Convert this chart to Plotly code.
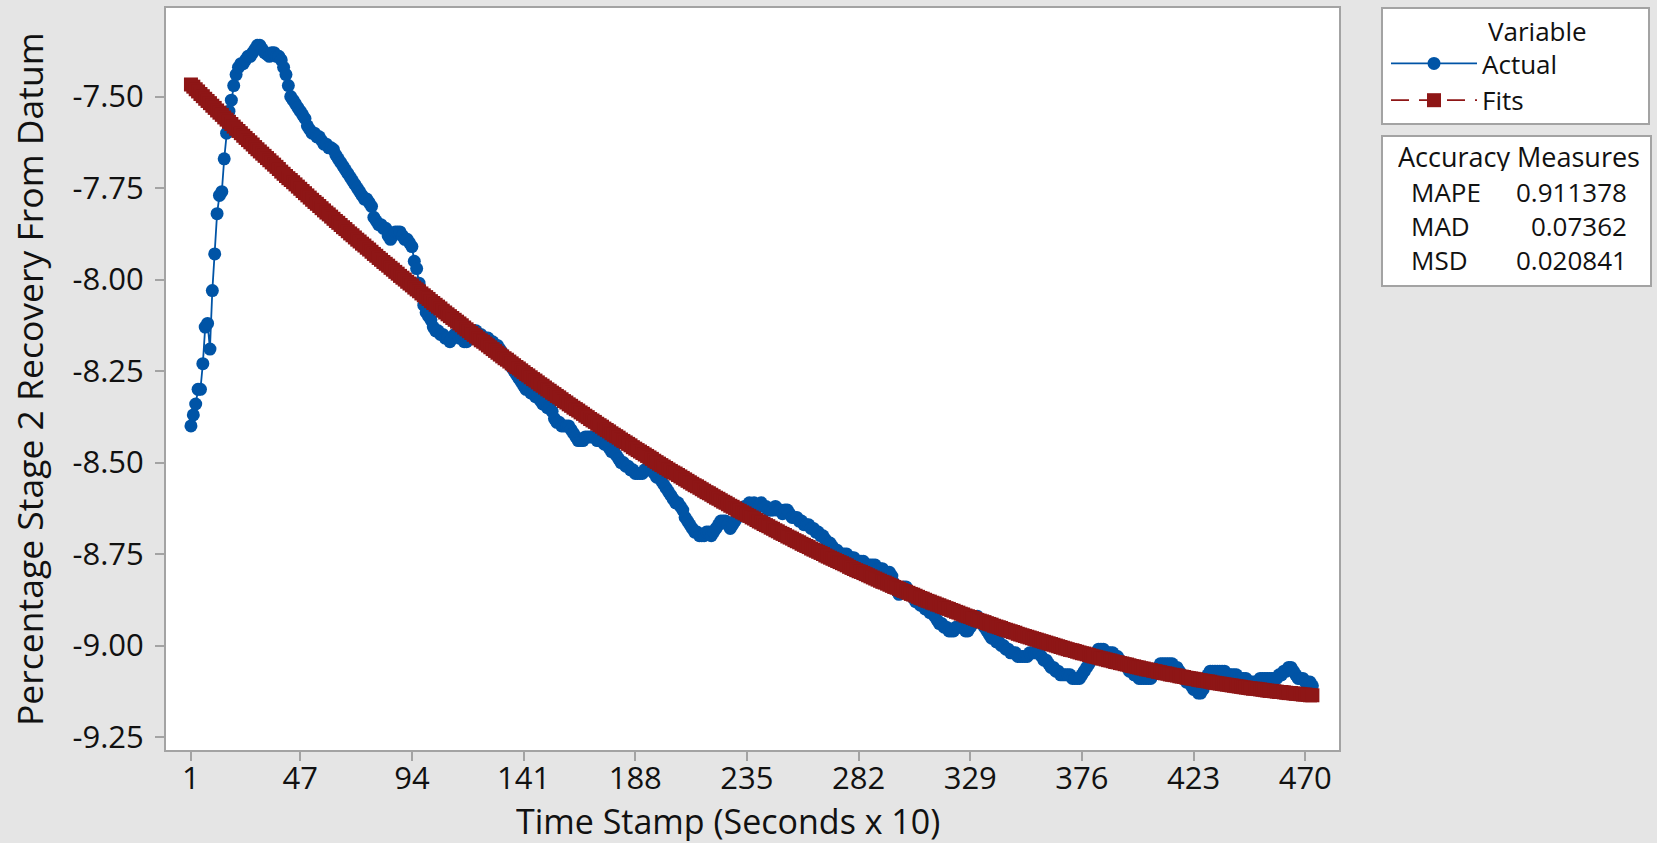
import plotly.graph_objects as go

# ---------------- data ----------------
ACTUAL = [
    -8.40, -8.37, -8.34, -8.30, -8.30, -8.23, -8.13, -8.12, -8.19, -8.03,
    -7.93, -7.82, -7.77, -7.76, -7.67, -7.60, -7.54, -7.51, -7.47, -7.44,
    -7.42, -7.41, -7.41, -7.40, -7.39, -7.39, -7.38, -7.37, -7.36, -7.36,
    -7.37, -7.38, -7.385, -7.39, -7.38, -7.38, -7.39, -7.39, -7.40, -7.42,
    -7.44, -7.47, -7.50, -7.51, -7.52, -7.53, -7.54, -7.55, -7.56, -7.58,
    -7.59, -7.60, -7.60, -7.61, -7.61, -7.62, -7.63, -7.63, -7.64, -7.64,
    -7.645, -7.66, -7.67, -7.68, -7.69, -7.70, -7.71, -7.72, -7.73, -7.74,
    -7.75, -7.76, -7.77, -7.78, -7.78, -7.79, -7.80, -7.83, -7.84, -7.85,
    -7.85, -7.86, -7.86, -7.88, -7.89, -7.88, -7.87, -7.87, -7.87, -7.88,
    -7.89, -7.89, -7.90, -7.91, -7.95, -7.97, -8.01, -8.04, -8.07, -8.09,
    -8.10, -8.11, -8.13, -8.14, -8.14, -8.15, -8.15, -8.16, -8.16, -8.17,
    -8.16, -8.15, -8.15, -8.16, -8.16, -8.17, -8.17, -8.16, -8.15, -8.14,
    -8.14, -8.15, -8.15, -8.16, -8.16, -8.16, -8.17, -8.17, -8.18, -8.18,
    -8.19, -8.20, -8.21, -8.22, -8.23, -8.24, -8.25, -8.26, -8.27, -8.28,
    -8.29, -8.30, -8.30, -8.31, -8.31, -8.32, -8.32, -8.33, -8.34, -8.34,
    -8.35, -8.35, -8.36, -8.38, -8.39, -8.39, -8.40, -8.40, -8.40, -8.40,
    -8.41, -8.42, -8.43, -8.44, -8.44, -8.44, -8.43, -8.43, -8.43, -8.43,
    -8.43, -8.44, -8.44, -8.44, -8.45, -8.45, -8.46, -8.47, -8.47, -8.48,
    -8.49, -8.50, -8.50, -8.51, -8.51, -8.52, -8.52, -8.53, -8.53, -8.53,
    -8.53, -8.52, -8.52, -8.52, -8.52, -8.53, -8.54, -8.54, -8.55, -8.56,
    -8.57, -8.58, -8.59, -8.60, -8.61, -8.61, -8.62, -8.63, -8.65, -8.66,
    -8.67, -8.68, -8.69, -8.69, -8.70, -8.70, -8.70, -8.69, -8.69, -8.70,
    -8.69, -8.68, -8.67, -8.66, -8.66, -8.66, -8.67, -8.68, -8.67, -8.66,
    -8.65, -8.64, -8.63, -8.62, -8.62, -8.61, -8.62, -8.61, -8.62, -8.62,
    -8.61, -8.62, -8.62, -8.63, -8.63, -8.63, -8.62, -8.63, -8.63, -8.64,
    -8.63, -8.63, -8.64, -8.65, -8.65, -8.65, -8.66, -8.66, -8.67, -8.67,
    -8.67, -8.68, -8.68, -8.69, -8.69, -8.70, -8.70, -8.71, -8.72, -8.72,
    -8.73, -8.74, -8.74, -8.75, -8.75, -8.75, -8.75, -8.76, -8.76, -8.76,
    -8.77, -8.77, -8.77, -8.77, -8.78, -8.78, -8.78, -8.78, -8.78, -8.79,
    -8.79, -8.79, -8.80, -8.80, -8.80, -8.81, -8.83, -8.85, -8.86, -8.85,
    -8.84, -8.84, -8.85, -8.86, -8.87, -8.88, -8.88, -8.89, -8.89, -8.90,
    -8.90, -8.91, -8.91, -8.92, -8.93, -8.94, -8.94, -8.95, -8.95, -8.96,
    -8.96, -8.96, -8.95, -8.95, -8.95, -8.95, -8.96, -8.96, -8.95, -8.94,
    -8.93, -8.92, -8.93, -8.94, -8.95, -8.96, -8.97, -8.98, -8.98, -8.99,
    -8.99, -9.00, -9.00, -9.01, -9.01, -9.02, -9.02, -9.02, -9.03, -9.03,
    -9.03, -9.03, -9.03, -9.02, -9.02, -9.02, -9.02, -9.02, -9.03, -9.04,
    -9.04, -9.05, -9.06, -9.06, -9.07, -9.07, -9.08, -9.08, -9.08, -9.08,
    -9.08, -9.09, -9.09, -9.09, -9.09, -9.08, -9.07, -9.06, -9.05, -9.04,
    -9.03, -9.02, -9.01, -9.01, -9.01, -9.02, -9.02, -9.02, -9.02, -9.03,
    -9.03, -9.04, -9.05, -9.05, -9.06, -9.07, -9.07, -9.08, -9.08, -9.09,
    -9.09, -9.09, -9.09, -9.09, -9.09, -9.08, -9.07, -9.06, -9.05, -9.05,
    -9.05, -9.05, -9.05, -9.05, -9.06, -9.06, -9.07, -9.08, -9.09, -9.10,
    -9.10, -9.11, -9.12, -9.12, -9.13, -9.13, -9.12, -9.10, -9.08, -9.07,
    -9.07, -9.07, -9.07, -9.07, -9.07, -9.07, -9.08, -9.08, -9.08, -9.08,
    -9.08, -9.09, -9.09, -9.09, -9.09, -9.10, -9.10, -9.10, -9.10, -9.10,
    -9.09, -9.09, -9.09, -9.09, -9.09, -9.09, -9.09, -9.09, -9.08, -9.08,
    -9.07, -9.07, -9.06, -9.06, -9.07, -9.08, -9.09, -9.09, -9.09, -9.10,
    -9.10, -9.10, -9.11,
]

FITS = [
    -7.467, -7.473, -7.480, -7.486, -7.493, -7.499, -7.506, -7.512, -7.518, -7.525,
    -7.531, -7.538, -7.544, -7.550, -7.557, -7.563, -7.569, -7.575, -7.582, -7.588,
    -7.594, -7.600, -7.607, -7.613, -7.619, -7.625, -7.631, -7.638, -7.644, -7.650,
    -7.656, -7.662, -7.668, -7.674, -7.680, -7.686, -7.692, -7.698, -7.705, -7.711,
    -7.717, -7.723, -7.728, -7.734, -7.740, -7.746, -7.752, -7.758, -7.764, -7.770,
    -7.776, -7.782, -7.788, -7.793, -7.799, -7.805, -7.811, -7.817, -7.822, -7.828,
    -7.834, -7.840, -7.845, -7.851, -7.857, -7.862, -7.868, -7.874, -7.879, -7.885,
    -7.891, -7.896, -7.902, -7.907, -7.913, -7.918, -7.924, -7.930, -7.935, -7.941,
    -7.946, -7.952, -7.957, -7.962, -7.968, -7.973, -7.979, -7.984, -7.990, -7.995,
    -8.000, -8.006, -8.011, -8.016, -8.022, -8.027, -8.032, -8.038, -8.043, -8.048,
    -8.053, -8.059, -8.064, -8.069, -8.074, -8.079, -8.085, -8.090, -8.095, -8.100,
    -8.105, -8.110, -8.115, -8.120, -8.125, -8.131, -8.136, -8.141, -8.146, -8.151,
    -8.156, -8.161, -8.166, -8.170, -8.175, -8.180, -8.185, -8.190, -8.195, -8.200,
    -8.205, -8.210, -8.215, -8.219, -8.224, -8.229, -8.234, -8.239, -8.243, -8.248,
    -8.253, -8.258, -8.262, -8.267, -8.272, -8.276, -8.281, -8.286, -8.290, -8.295,
    -8.300, -8.304, -8.309, -8.313, -8.318, -8.322, -8.327, -8.332, -8.336, -8.341,
    -8.345, -8.350, -8.354, -8.358, -8.363, -8.367, -8.372, -8.376, -8.381, -8.385,
    -8.389, -8.394, -8.398, -8.402, -8.407, -8.411, -8.415, -8.420, -8.424, -8.428,
    -8.432, -8.437, -8.441, -8.445, -8.449, -8.453, -8.458, -8.462, -8.466, -8.470,
    -8.474, -8.478, -8.482, -8.486, -8.490, -8.495, -8.499, -8.503, -8.507, -8.511,
    -8.515, -8.519, -8.523, -8.527, -8.530, -8.534, -8.538, -8.542, -8.546, -8.550,
    -8.554, -8.558, -8.562, -8.565, -8.569, -8.573, -8.577, -8.581, -8.584, -8.588,
    -8.592, -8.596, -8.599, -8.603, -8.607, -8.610, -8.614, -8.618, -8.621, -8.625,
    -8.629, -8.632, -8.636, -8.639, -8.643, -8.646, -8.650, -8.653, -8.657, -8.661,
    -8.664, -8.668, -8.671, -8.674, -8.678, -8.681, -8.685, -8.688, -8.692, -8.695,
    -8.698, -8.702, -8.705, -8.708, -8.712, -8.715, -8.718, -8.722, -8.725, -8.728,
    -8.731, -8.735, -8.738, -8.741, -8.744, -8.747, -8.750, -8.754, -8.757, -8.760,
    -8.763, -8.766, -8.769, -8.772, -8.775, -8.778, -8.781, -8.785, -8.788, -8.791,
    -8.794, -8.797, -8.799, -8.802, -8.805, -8.808, -8.811, -8.814, -8.817, -8.820,
    -8.823, -8.826, -8.828, -8.831, -8.834, -8.837, -8.840, -8.842, -8.845, -8.848,
    -8.851, -8.853, -8.856, -8.859, -8.861, -8.864, -8.867, -8.870, -8.872, -8.875,
    -8.878, -8.880, -8.883, -8.885, -8.888, -8.890, -8.893, -8.895, -8.898, -8.900,
    -8.903, -8.905, -8.908, -8.910, -8.913, -8.915, -8.918, -8.920, -8.922, -8.925,
    -8.927, -8.930, -8.932, -8.934, -8.936, -8.939, -8.941, -8.943, -8.946, -8.948,
    -8.950, -8.952, -8.955, -8.957, -8.959, -8.961, -8.963, -8.965, -8.968, -8.970,
    -8.972, -8.974, -8.976, -8.978, -8.980, -8.982, -8.984, -8.986, -8.988, -8.990,
    -8.992, -8.994, -8.996, -8.998, -9.000, -9.002, -9.004, -9.006, -9.008, -9.010,
    -9.012, -9.013, -9.015, -9.017, -9.019, -9.021, -9.022, -9.024, -9.026, -9.028,
    -9.030, -9.031, -9.033, -9.035, -9.036, -9.038, -9.040, -9.041, -9.043, -9.045,
    -9.046, -9.048, -9.049, -9.051, -9.052, -9.054, -9.056, -9.057, -9.059, -9.060,
    -9.062, -9.063, -9.065, -9.066, -9.067, -9.069, -9.070, -9.072, -9.073, -9.075,
    -9.076, -9.077, -9.079, -9.080, -9.081, -9.082, -9.084, -9.085, -9.086, -9.088,
    -9.089, -9.090, -9.091, -9.092, -9.094, -9.095, -9.096, -9.097, -9.098, -9.099,
    -9.101, -9.102, -9.103, -9.104, -9.105, -9.106, -9.107, -9.108, -9.109, -9.110,
    -9.111, -9.112, -9.113, -9.114, -9.115, -9.116, -9.117, -9.118, -9.118, -9.119,
    -9.120, -9.121, -9.122, -9.123, -9.124, -9.124, -9.125, -9.126, -9.127, -9.127,
    -9.128, -9.129, -9.130, -9.130, -9.131, -9.132, -9.132, -9.133, -9.134, -9.134,
    -9.135, -9.136, -9.136,
]

TIME_STAMP = list(range(1, len(ACTUAL) + 1))

X_TICKS = [1, 47, 94, 141, 188, 235, 282, 329, 376, 423, 470]
X_TICK_TEXT = ["1", "47", "94", "141", "188", "235", "282", "329", "376", "423", "470"]
Y_TICKS = [-7.50, -7.75, -8.00, -8.25, -8.50, -8.75, -9.00, -9.25]
Y_TICK_TEXT = ["-7.50", "-7.75", "-8.00", "-8.25", "-8.50", "-8.75", "-9.00", "-9.25"]

SERIES_NAMES = ["Actual", "Fits"]
ACC_TITLE = "Accuracy Measures"
ACC_LABELS = ["MAPE", "MAD", "MSD"]
ACC_VALUES = ["0.911378", "0.07362", "0.020841"]

X_TITLE = "Time Stamp (Seconds x 10)"
Y_TITLE = "Percentage Stage 2 Recovery From Datum"

# ---------------- styling / layout ----------------
W, H = 1657, 843
L, R, T, B = 166, 1339, 8, 750
FONT = "Open Sans, Noto Sans, DejaVu Sans, sans-serif"
TXT = "#111111"
BLUE = "#0054A6"
RED = "#8E1616"
BG = "#E5E5E5"
FRAME = "#A3A3A3"


def px(xp):
    return (xp - L) / (R - L)


def py(yp):
    return (B - yp) / (B - T)


fig = go.Figure()
fig.add_trace(go.Scatter(
    x=TIME_STAMP, y=ACTUAL, name=SERIES_NAMES[0], mode="lines+markers",
    line=dict(color=BLUE, width=1.8),
    marker=dict(symbol="circle", size=13, color=BLUE, line=dict(width=0)),
))
fig.add_trace(go.Scatter(
    x=TIME_STAMP, y=FITS, name=SERIES_NAMES[1], mode="lines+markers",
    line=dict(color=RED, width=1.8, dash="18px,10px"),
    marker=dict(symbol="square", size=14, color=RED, line=dict(width=0)),
))

axis_common = dict(
    showgrid=False, zeroline=False, showline=True, mirror=True, automargin=False,
    linecolor=FRAME, linewidth=2, ticks="outside", ticklen=9, tickwidth=1.5,
    tickcolor=FRAME, tickfont=dict(family=FONT, size=31, color=TXT),
)

fig.update_xaxes(range=[-9.5, 484.2], tickmode="array", tickvals=X_TICKS,
                 ticktext=X_TICK_TEXT, ticklabelstandoff=-9, **axis_common)
fig.update_yaxes(range=[-9.2855, -7.258], tickmode="array", tickvals=Y_TICKS,
                 ticktext=Y_TICK_TEXT, ticklabelstandoff=5, **axis_common)

shapes = [
    dict(type="rect", xref="paper", yref="paper", x0=px(1382), x1=px(1649),
         y0=py(124), y1=py(8), line=dict(color=FRAME, width=2), fillcolor="white",
         layer="below"),
    dict(type="rect", xref="paper", yref="paper", x0=px(1382), x1=px(1651),
         y0=py(286), y1=py(136), line=dict(color=FRAME, width=2), fillcolor="white",
         layer="below"),
]

# accuracy table: one text block for the labels, one for the values
ROW1_Y = 192
ROW_STEP = 1.3 * 26
block_mid = ROW1_Y + ROW_STEP * (len(ACC_LABELS) - 1) / 2

ann = [
    dict(text=X_TITLE, x=px(728), y=py(821), xref="paper", yref="paper",
         xanchor="center", yanchor="middle", showarrow=False, height=40,
         font=dict(family=FONT, size=34, color=TXT)),
    dict(text=Y_TITLE, x=px(29), y=py(379), xref="paper", yref="paper",
         xanchor="center", yanchor="middle", showarrow=False, textangle=-90,
         font=dict(family=FONT, size=35.5, color=TXT)),
    dict(text="Variable", x=px(1537), y=py(31), xref="paper", yref="paper",
         xanchor="center", yanchor="middle", showarrow=False, height=30,
         font=dict(family=FONT, size=26, color=TXT)),
    dict(text=ACC_TITLE, x=px(1519), y=py(156), xref="paper", yref="paper",
         xanchor="center", yanchor="middle", showarrow=False, height=30,
         font=dict(family=FONT, size=27, color=TXT)),
    dict(text="<br>".join(ACC_LABELS), x=px(1409), y=py(block_mid),
         xref="paper", yref="paper", xanchor="left", yanchor="middle",
         align="left", showarrow=False,
         font=dict(family=FONT, size=26, color=TXT)),
    dict(text="<br>".join(ACC_VALUES), x=px(1629), y=py(block_mid),
         xref="paper", yref="paper", xanchor="right", yanchor="middle",
         align="right", showarrow=False,
         font=dict(family=FONT, size=26, color=TXT)),
]

fig.update_layout(
    width=W, height=H, autosize=False,
    margin=dict(l=L, r=W - R, t=T, b=H - B, pad=0),
    paper_bgcolor=BG, plot_bgcolor="white",
    font=dict(family=FONT, color=TXT),
    showlegend=True,
    legend=dict(x=px(1386), y=py(40), xanchor="left", yanchor="top",
                bgcolor="rgba(0,0,0,0)", borderwidth=0, itemwidth=86,
                font=dict(family=FONT, size=26, color=TXT), tracegroupgap=0),
    shapes=shapes, annotations=ann,
)

fig.write_html(
    "out.html",
    config={"displayModeBar": False},
    post_script="document.body.style.margin='0px';document.body.style.overflow='hidden';",
)
